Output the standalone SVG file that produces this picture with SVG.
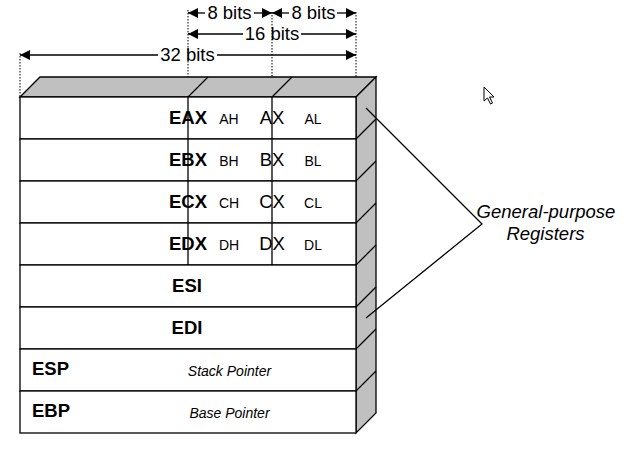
<svg xmlns="http://www.w3.org/2000/svg" width="627" height="449" viewBox="0 0 627 449">
<style>
.face{fill:#c0c0c0;stroke:#000;stroke-width:1.3}
.row{fill:#fff;stroke:#000;stroke-width:1.3}
.ln{stroke:#000;stroke-width:1.3;fill:none}
.dot{stroke:#000;stroke-width:1;stroke-dasharray:1.5 1.5;fill:none}
.dim{stroke:#000;stroke-width:1.3;fill:none}
.dl{font-family:"Liberation Sans",Arial,sans-serif;font-size:18.5px;text-anchor:middle}
.big{font-family:"Liberation Sans",Arial,sans-serif;font-size:18.5px;font-weight:bold;text-anchor:middle}
.reg{font-family:"Liberation Sans",Arial,sans-serif;font-size:18.5px;text-anchor:middle}
.sm{font-family:"Liberation Sans",Arial,sans-serif;font-size:14px;text-anchor:middle}
.it{font-family:"Liberation Sans",Arial,sans-serif;font-size:14px;font-style:italic;text-anchor:middle}
.lab{font-family:"Liberation Sans",Arial,sans-serif;font-size:18.5px;font-style:italic;text-anchor:middle}
</style>
<defs>
<marker id="ah" viewBox="0 0 10 10" refX="10" refY="5" markerWidth="10" markerHeight="10" markerUnits="userSpaceOnUse" orient="auto-start-reverse">
<path d="M0,0 L10,5 L0,10 Z" fill="#000"/>
</marker>
</defs>
<rect width="627" height="449" fill="#fff"/>
<g id="dimensions">
<line class="dot" x1="20" y1="53" x2="20" y2="97"/>
<line class="dot" x1="188" y1="10" x2="188" y2="97"/>
<line class="dot" x1="272" y1="12" x2="272" y2="97"/>
<line class="dot" x1="356" y1="12" x2="356" y2="97"/>
<line class="dim" x1="188" y1="13" x2="205" y2="13" marker-start="url(#ah)"/>
<line class="dim" x1="254" y1="13" x2="272" y2="13" marker-end="url(#ah)"/>
<text class="dl" x="229.5" y="19">8 bits</text>
<line class="dim" x1="272" y1="13" x2="289" y2="13" marker-start="url(#ah)"/>
<line class="dim" x1="337" y1="13" x2="356" y2="13" marker-end="url(#ah)"/>
<text class="dl" x="313.5" y="19">8 bits</text>
<line class="dim" x1="188" y1="34" x2="243" y2="34" marker-start="url(#ah)"/>
<line class="dim" x1="301" y1="34" x2="356" y2="34" marker-end="url(#ah)"/>
<text class="dl" x="272" y="40">16 bits</text>
<line class="dim" x1="20" y1="55" x2="158" y2="55" marker-start="url(#ah)"/>
<line class="dim" x1="217" y1="55" x2="356" y2="55" marker-end="url(#ah)"/>
<text class="dl" x="187.5" y="61">32 bits</text>
</g>
<g id="block">
<path class="face" d="M20,97 L40,77 L376,77 L356,97 Z"/>
<line class="ln" x1="188" y1="97" x2="208" y2="77"/>
<line class="ln" x1="272" y1="97" x2="292" y2="77"/>
<path class="face" d="M356,97 L376,77 L376,413 L356,433 Z"/>
<line class="ln" x1="356" y1="139" x2="376" y2="119"/>
<line class="ln" x1="356" y1="181" x2="376" y2="161"/>
<line class="ln" x1="356" y1="223" x2="376" y2="203"/>
<line class="ln" x1="356" y1="265" x2="376" y2="245"/>
<line class="ln" x1="356" y1="307" x2="376" y2="287"/>
<line class="ln" x1="356" y1="349" x2="376" y2="329"/>
<line class="ln" x1="356" y1="391" x2="376" y2="371"/>
</g>
<g id="EAX">
<rect class="row" x="20" y="97" width="336" height="42"/>
<text class="big" x="188" y="124">EAX</text>
<text class="sm" x="229" y="124">AH</text>
<text class="reg" x="272" y="124">AX</text>
<text class="sm" x="313" y="124">AL</text>
</g>
<g id="EBX">
<rect class="row" x="20" y="139" width="336" height="42"/>
<text class="big" x="188" y="166">EBX</text>
<text class="sm" x="229" y="166">BH</text>
<text class="reg" x="272" y="166">BX</text>
<text class="sm" x="313" y="166">BL</text>
</g>
<g id="ECX">
<rect class="row" x="20" y="181" width="336" height="42"/>
<text class="big" x="188" y="208">ECX</text>
<text class="sm" x="229" y="208">CH</text>
<text class="reg" x="272" y="208">CX</text>
<text class="sm" x="313" y="208">CL</text>
</g>
<g id="EDX">
<rect class="row" x="20" y="223" width="336" height="42"/>
<text class="big" x="188" y="250">EDX</text>
<text class="sm" x="229" y="250">DH</text>
<text class="reg" x="272" y="250">DX</text>
<text class="sm" x="313" y="250">DL</text>
</g>
<g id="dividers">
<line class="ln" x1="188" y1="97" x2="188" y2="265"/>
<line class="ln" x1="272" y1="97" x2="272" y2="265"/>
</g>
<g id="ESI">
<rect class="row" x="20" y="265" width="336" height="42"/>
<text class="big" x="187" y="292">ESI</text>
</g>
<g id="EDI">
<rect class="row" x="20" y="307" width="336" height="42"/>
<text class="big" x="187" y="334">EDI</text>
</g>
<g id="ESP">
<rect class="row" x="20" y="349" width="336" height="42"/>
<text class="big" x="32" y="375" style="text-anchor:start">ESP</text>
<text class="it" x="229.5" y="376">Stack Pointer</text>
</g>
<g id="EBP">
<rect class="row" x="20" y="391" width="336" height="42"/>
<text class="big" x="32" y="417" style="text-anchor:start">EBP</text>
<text class="it" x="229.5" y="418">Base Pointer</text>
</g>
<g id="connectors">
<polyline class="ln" points="366,108 482,224 366,318" stroke-width="1"/>
</g>
<g id="label">
<text class="lab" x="546" y="218">General-purpose</text>
<text class="lab" x="545.5" y="240">Registers</text>
</g>
<g id="cursor">
<path d="M484,87 L484,101 L487.5,98 L490.5,104 L492.5,103 L489.5,97 L494,97 Z" fill="#fff" stroke="#000" stroke-width="1"/>
</g>
</svg>
